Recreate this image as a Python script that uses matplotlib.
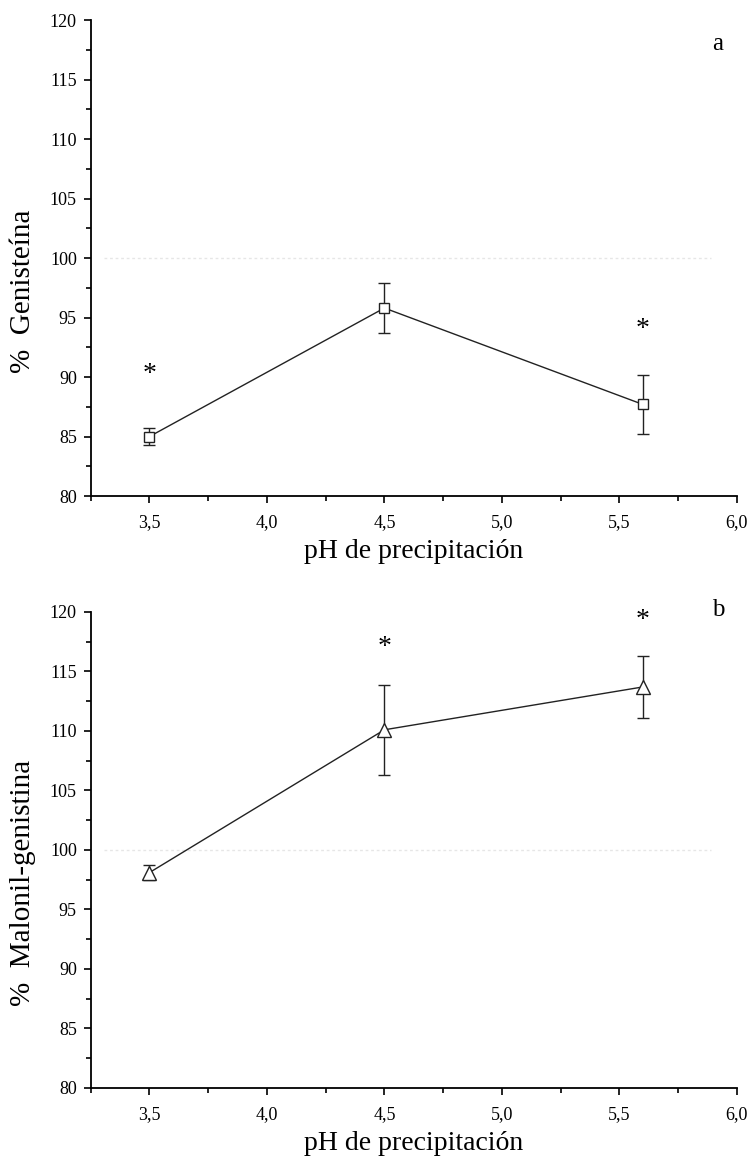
import matplotlib
matplotlib.use("Agg")
import matplotlib.pyplot as plt
from matplotlib.ticker import MultipleLocator, FuncFormatter

# pH de precipitación
ph = [3.5, 4.5, 5.6]

# Genisteína (%)
gen = [85.0, 95.8, 87.7]
gen_err = [0.75, 2.1, 2.5]

# Malonil-genistina (%)
mal = [98.1, 110.1, 113.7]
mal_err = [0.6, 3.8, 2.6]

# posiciones de los asteriscos (diferencias significativas)
gen_star_x = [3.5, 5.6]
gen_star_y = [90.2, 94.0]
mal_star_x = [4.5, 5.6]
mal_star_y = [117.0, 119.3]

plt.rcParams["font.family"] = ["Liberation Serif", "DejaVu Serif"]

fig = plt.figure(figsize=(7.47, 11.65), dpi=100)
ax1 = fig.add_axes([0.1214, 0.5742, 0.865, 0.4086])
ax2 = fig.add_axes([0.1214, 0.0661, 0.865, 0.4086])


def estilo(ax):
    ax.set_xlim(3.25, 6.0)
    ax.set_ylim(80, 120)
    ax.spines["top"].set_visible(False)
    ax.spines["right"].set_visible(False)
    for s in ("left", "bottom"):
        ax.spines[s].set_linewidth(1.3)
    ax.xaxis.set_major_locator(MultipleLocator(0.5))
    ax.xaxis.set_minor_locator(MultipleLocator(0.25))
    ax.yaxis.set_major_locator(MultipleLocator(5))
    ax.yaxis.set_minor_locator(MultipleLocator(2.5))
    ax.xaxis.set_major_formatter(FuncFormatter(lambda v, p: f"{v:.1f}".replace(".", ",")))
    ax.tick_params(which="major", direction="out", length=5, width=1.2, labelsize=13, pad=5)
    ax.tick_params(which="minor", direction="out", length=3.5, width=1.2)
    ax.tick_params(axis="x", which="major", pad=8)
    ax.set_xlabel("pH de precipitación", fontsize=20, labelpad=6)
    # línea tenue del 100 %
    ax.axhline(100, xmin=0.02, xmax=0.96, color="#e6e6e6", lw=1, ls=(0, (2, 2)), zorder=0)


estilo(ax1)
estilo(ax2)

ax1.errorbar(ph, gen, yerr=gen_err, color="#222222", lw=1, marker="s", ms=7.5,
             mfc="white", mec="#222222", mew=1, capsize=4.5, capthick=1, elinewidth=1)
ax2.errorbar(ph, mal, yerr=mal_err, color="#222222", lw=1, marker="^", ms=10,
             mfc="white", mec="#222222", mew=1, capsize=4.5, capthick=1, elinewidth=1)

for x, y in zip(gen_star_x, gen_star_y):
    ax1.text(x, y, "*", fontsize=20, ha="center", va="center")
for x, y in zip(mal_star_x, mal_star_y):
    ax2.text(x, y, "*", fontsize=20, ha="center", va="center")

ax1.text(5.92, 118, "a", fontsize=18, ha="center", va="center")
ax2.text(5.92, 120.2, "b", fontsize=18, ha="center", va="center")

ax1.set_ylabel("%  Genisteína", fontsize=21)
ax2.set_ylabel("%  Malonil-genistina", fontsize=21)
ax1.yaxis.set_label_coords(-0.085, 0.43)
ax2.yaxis.set_label_coords(-0.085, 0.43)

fig.savefig("out.png", dpi=100)
